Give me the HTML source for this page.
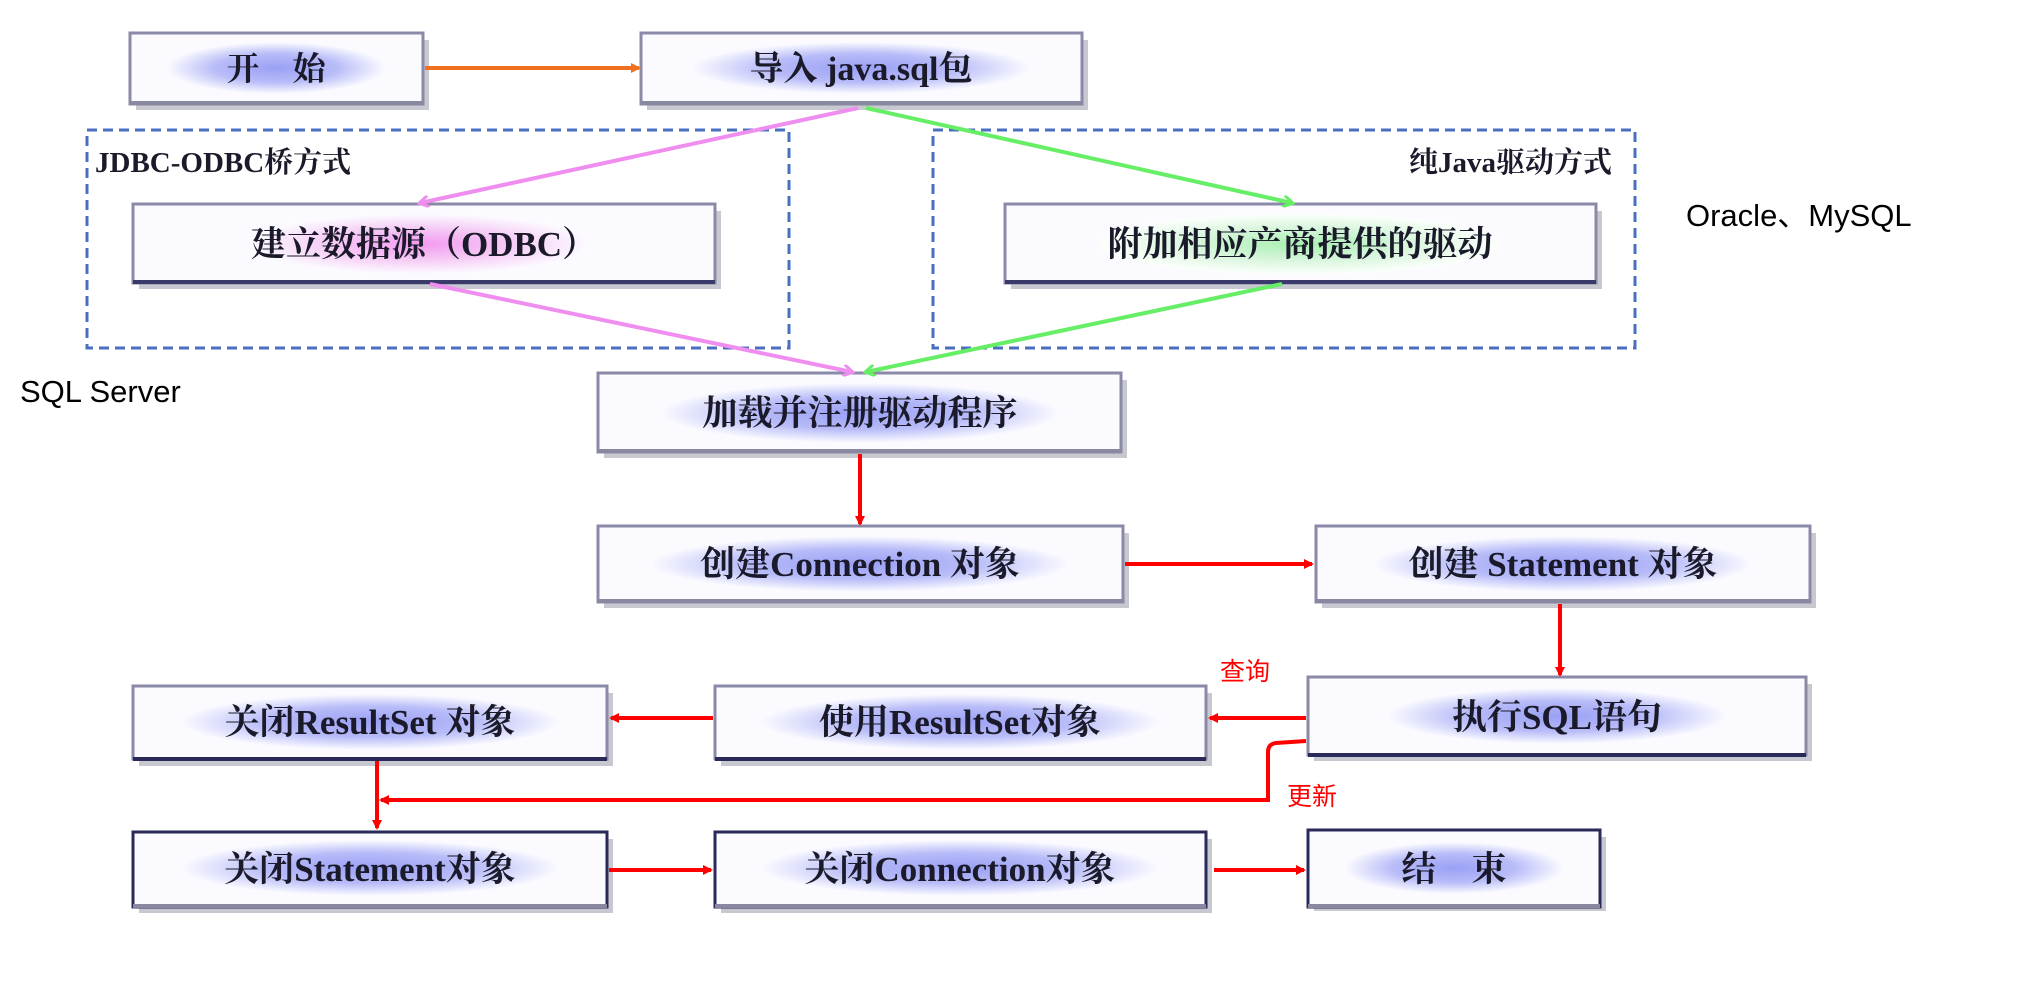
<!DOCTYPE html>
<html><head><meta charset="utf-8"><style>
html,body{margin:0;padding:0;background:#fff;}
svg{display:block;}
.bt{font-family:"Liberation Serif","Noto Serif CJK SC",serif;font-weight:bold;fill:#1a1a2a;}
</style></head><body>
<svg width="2028" height="993" viewBox="0 0 2028 993" xmlns="http://www.w3.org/2000/svg">
<defs>
<radialGradient id="g" cx="50%" cy="50%" r="50%">
<stop offset="0" stop-color="#9aa0f5"/><stop offset="0.55" stop-color="#b8bcf8"/><stop offset="1" stop-color="#fbfbff"/>
</radialGradient>
<radialGradient id="gp" cx="50%" cy="50%" r="50%">
<stop offset="0" stop-color="#f39af0"/><stop offset="0.5" stop-color="#f5c8f5"/><stop offset="1" stop-color="#fcfbff"/>
</radialGradient>
<radialGradient id="gg" cx="50%" cy="50%" r="50%">
<stop offset="0" stop-color="#a8f0b0"/><stop offset="0.5" stop-color="#d5f5da"/><stop offset="1" stop-color="#fbfffb"/>
</radialGradient>
<marker id="ar" markerWidth="10" markerHeight="10" refX="8" refY="5" orient="auto" markerUnits="userSpaceOnUse"><path d="M0,0 L10,5 L0,10 z" fill="#ff0000"/></marker>
<marker id="ao" markerWidth="10" markerHeight="10" refX="8" refY="5" orient="auto" markerUnits="userSpaceOnUse"><path d="M0,0 L10,5 L0,10 z" fill="#f07020"/></marker>
<marker id="ap" markerWidth="12" markerHeight="12" refX="9" refY="6" orient="auto" markerUnits="userSpaceOnUse"><path d="M0,0 L10,6 L0,12" fill="none" stroke="#f08ef0" stroke-width="3"/></marker>
<marker id="ag" markerWidth="12" markerHeight="12" refX="9" refY="6" orient="auto" markerUnits="userSpaceOnUse"><path d="M0,0 L10,6 L0,12" fill="none" stroke="#66ee66" stroke-width="3"/></marker>
</defs>

<!-- dashed groups -->
<rect x="87" y="130" width="702" height="218" fill="none" stroke="#4a6fc0" stroke-width="3" stroke-dasharray="10,6"/>
<rect x="933" y="130" width="702" height="218" fill="none" stroke="#4a6fc0" stroke-width="3" stroke-dasharray="10,6"/>
<text x="95" y="172" class="bt" font-size="29">JDBC-ODBC桥方式</text>
<text x="1612" y="172" class="bt" font-size="29" text-anchor="end">纯Java驱动方式</text>

<g font-family="Liberation Sans, sans-serif" font-size="31" fill="#000">
<text x="20" y="402">SQL Server</text>
<text x="1686" y="226">Oracle、MySQL</text>
</g>
<g font-family="Liberation Sans, 'Noto Sans CJK SC', sans-serif" font-size="25" fill="#ff0000">
<text x="1220" y="680">查询</text>
<text x="1287" y="805">更新</text>
</g>

<!-- boxes -->
<g id="boxes">
<!-- helper: shadow, fill, glow, border -->
<g>
<rect x="136" y="40" width="293" height="70" fill="#c8c8d0"/>
<rect x="130" y="33" width="293" height="71" fill="#fbfbff" stroke="#8a8aa8" stroke-width="3"/>
<ellipse cx="276" cy="68" rx="110" ry="26" fill="url(#g)"/>
<line x1="130" y1="103" x2="423" y2="103" stroke="#8888a0" stroke-width="4"/>
<text x="276" y="80" class="bt" font-size="33" text-anchor="middle">开　始</text>
</g>
<g>
<rect x="647" y="40" width="441" height="70" fill="#c8c8d0"/>
<rect x="641" y="33" width="441" height="71" fill="#fbfbff" stroke="#8a8aa8" stroke-width="3"/>
<ellipse cx="861" cy="68" rx="170" ry="26" fill="url(#g)"/>
<line x1="641" y1="103" x2="1082" y2="103" stroke="#8888a0" stroke-width="4"/>
<text x="861" y="80" class="bt" font-size="34" text-anchor="middle">导入 java.sql包</text>
</g>
<g>
<rect x="139" y="211" width="582" height="78" fill="#c8c8d0"/>
<rect x="133" y="204" width="582" height="79" fill="#fbfbff" stroke="#8a8aa8" stroke-width="3"/>
<ellipse cx="420" cy="244" rx="170" ry="30" fill="url(#gp)"/>
<line x1="133" y1="282" x2="715" y2="282" stroke="#3a3a6a" stroke-width="4"/>
<text x="424" y="256" class="bt" font-size="35" text-anchor="middle">建立数据源（ODBC）</text>
</g>
<g>
<rect x="1011" y="211" width="591" height="78" fill="#c8c8d0"/>
<rect x="1005" y="204" width="591" height="79" fill="#fbfbff" stroke="#8a8aa8" stroke-width="3"/>
<ellipse cx="1300" cy="244" rx="200" ry="30" fill="url(#gg)"/>
<line x1="1005" y1="282" x2="1596" y2="282" stroke="#3a3a6a" stroke-width="4"/>
<text x="1300" y="256" class="bt" font-size="35" text-anchor="middle">附加相应产商提供的驱动</text>
</g>
<g>
<rect x="604" y="380" width="523" height="78" fill="#c8c8d0"/>
<rect x="598" y="373" width="523" height="79" fill="#fbfbff" stroke="#8a8aa8" stroke-width="3"/>
<ellipse cx="860" cy="413" rx="200" ry="30" fill="url(#g)"/>
<line x1="598" y1="451" x2="1121" y2="451" stroke="#8888a0" stroke-width="4"/>
<text x="860" y="425" class="bt" font-size="35" text-anchor="middle">加载并注册驱动程序</text>
</g>
<g>
<rect x="604" y="533" width="525" height="75" fill="#c8c8d0"/>
<rect x="598" y="526" width="525" height="76" fill="#fbfbff" stroke="#8a8aa8" stroke-width="3"/>
<ellipse cx="860" cy="564" rx="210" ry="28" fill="url(#g)"/>
<line x1="598" y1="601" x2="1123" y2="601" stroke="#8888a0" stroke-width="4"/>
<text x="860" y="576" class="bt" font-size="35" text-anchor="middle">创建Connection 对象</text>
</g>
<g>
<rect x="1322" y="533" width="494" height="75" fill="#c8c8d0"/>
<rect x="1316" y="526" width="494" height="76" fill="#fbfbff" stroke="#8a8aa8" stroke-width="3"/>
<ellipse cx="1563" cy="564" rx="190" ry="28" fill="url(#g)"/>
<line x1="1316" y1="601" x2="1810" y2="601" stroke="#8888a0" stroke-width="4"/>
<text x="1563" y="576" class="bt" font-size="35" text-anchor="middle">创建 Statement 对象</text>
</g>
<g>
<rect x="1314" y="684" width="498" height="77" fill="#c8c8d0"/>
<rect x="1308" y="677" width="498" height="78" fill="#fbfbff" stroke="#8a8aa8" stroke-width="3"/>
<ellipse cx="1557" cy="716" rx="170" ry="28" fill="url(#g)"/>
<line x1="1308" y1="755" x2="1806" y2="755" stroke="#2a2a5a" stroke-width="4"/>
<text x="1557" y="729" class="bt" font-size="35" text-anchor="middle">执行SQL语句</text>
</g>
<g>
<rect x="721" y="693" width="491" height="73" fill="#c8c8d0"/>
<rect x="715" y="686" width="491" height="73" fill="#fbfbff" stroke="#8a8aa8" stroke-width="3"/>
<ellipse cx="960" cy="722" rx="200" ry="28" fill="url(#g)"/>
<line x1="715" y1="759" x2="1206" y2="759" stroke="#2a2a5a" stroke-width="4"/>
<text x="960" y="734" class="bt" font-size="35" text-anchor="middle">使用ResultSet对象</text>
</g>
<g>
<rect x="139" y="693" width="474" height="73" fill="#c8c8d0"/>
<rect x="133" y="686" width="474" height="73" fill="#fbfbff" stroke="#8a8aa8" stroke-width="3"/>
<ellipse cx="370" cy="722" rx="190" ry="28" fill="url(#g)"/>
<line x1="133" y1="759" x2="607" y2="759" stroke="#2a2a5a" stroke-width="4"/>
<text x="370" y="734" class="bt" font-size="35" text-anchor="middle">关闭ResultSet 对象</text>
</g>
<g>
<rect x="139" y="839" width="474" height="74" fill="#c8c8d0"/>
<rect x="133" y="832" width="474" height="75" fill="#fbfbff" stroke="#2a2a5a" stroke-width="3"/>
<ellipse cx="370" cy="868" rx="190" ry="28" fill="url(#g)"/>
<line x1="133" y1="906" x2="607" y2="906" stroke="#8888a0" stroke-width="4"/>
<text x="370" y="881" class="bt" font-size="35" text-anchor="middle">关闭Statement对象</text>
</g>
<g>
<rect x="721" y="839" width="491" height="74" fill="#c8c8d0"/>
<rect x="715" y="832" width="491" height="75" fill="#fbfbff" stroke="#2a2a5a" stroke-width="3"/>
<ellipse cx="960" cy="868" rx="200" ry="28" fill="url(#g)"/>
<line x1="715" y1="906" x2="1206" y2="906" stroke="#8888a0" stroke-width="4"/>
<text x="960" y="881" class="bt" font-size="35" text-anchor="middle">关闭Connection对象</text>
</g>
<g>
<rect x="1314" y="837" width="292" height="74" fill="#c8c8d0"/>
<rect x="1308" y="830" width="292" height="77" fill="#fbfbff" stroke="#2a2a5a" stroke-width="3"/>
<ellipse cx="1454" cy="868" rx="110" ry="26" fill="url(#g)"/>
<line x1="1308" y1="906" x2="1600" y2="906" stroke="#8888a0" stroke-width="4"/>
<text x="1454" y="881" class="bt" font-size="35" text-anchor="middle">结　束</text>
</g>
</g>

<!-- connectors -->
<line x1="425" y1="68" x2="639" y2="68" stroke="#f07020" stroke-width="4" marker-end="url(#ao)"/>
<line x1="858" y1="108" x2="420" y2="203" stroke="#f08ef0" stroke-width="4" marker-end="url(#ap)"/>
<line x1="430" y1="284" x2="852" y2="372" stroke="#f08ef0" stroke-width="4" marker-end="url(#ap)"/>
<line x1="866" y1="108" x2="1292" y2="203" stroke="#66ee66" stroke-width="4" marker-end="url(#ag)"/>
<line x1="1282" y1="284" x2="866" y2="372" stroke="#66ee66" stroke-width="4" marker-end="url(#ag)"/>
<g stroke="#ff0000" stroke-width="4" fill="none">
<line x1="860" y1="454" x2="860" y2="524" marker-end="url(#ar)"/>
<line x1="1125" y1="564" x2="1312" y2="564" marker-end="url(#ar)"/>
<line x1="1560" y1="604" x2="1560" y2="675" marker-end="url(#ar)"/>
<line x1="1306" y1="718" x2="1210" y2="718" marker-end="url(#ar)"/>
<line x1="713" y1="718" x2="611" y2="718" marker-end="url(#ar)"/>
<path d="M1306,741 L1276,743 Q1268,744 1268,752 L1268,800 L381,800" marker-end="url(#ar)"/>
<line x1="377" y1="761" x2="377" y2="828" marker-end="url(#ar)"/>
<line x1="609" y1="870" x2="711" y2="870" marker-end="url(#ar)"/>
<line x1="1214" y1="870" x2="1304" y2="870" marker-end="url(#ar)"/>
</g>
</svg>
</body></html>
